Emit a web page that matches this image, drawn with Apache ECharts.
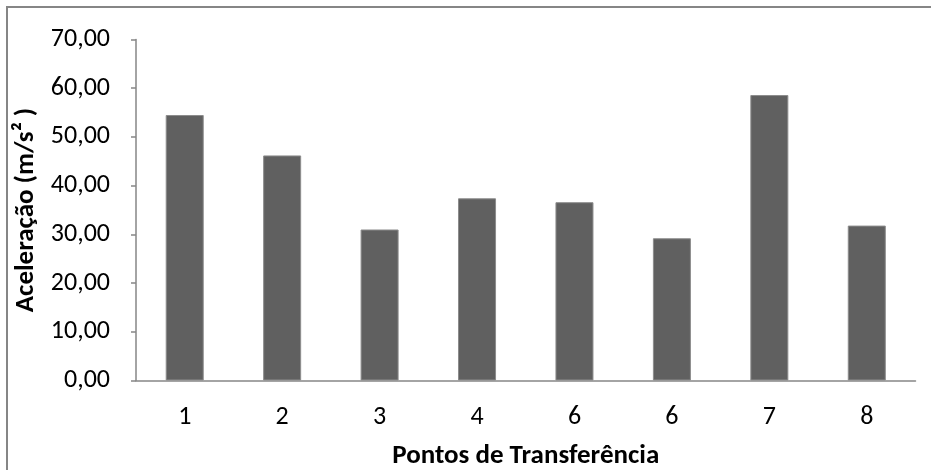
<!DOCTYPE html>
<html>
<head>
<meta charset="utf-8">
<script src="https://cdn.jsdelivr.net/npm/echarts@6/dist/echarts.min.js"></script>
<style>
  html, body { margin: 0; padding: 0; background: #fff; }
  #chart { width: 931px; height: 470px; }
</style>
</head>
<body>
<div id="chart"></div>
<script>
// Transfer points and measured acceleration (m/s²)
const categories = ['1', '2', '3', '4', '6', '6', '7', '8'];
const acceleration = [54.5, 46.2, 31.0, 37.4, 36.6, 29.2, 58.6, 31.8];
const yMin = 0, yMax = 70, yStep = 10;

const FONT = 'Carlito, "Open Sans", "Liberation Sans", sans-serif';
const chart = echarts.init(document.getElementById('chart'), null, { renderer: 'canvas' });

chart.setOption({
  animation: false,
  backgroundColor: '#ffffff',
  // frame edges along the top and left of the chart area
  graphic: [
    { type: 'line', shape: { x1: 6, y1: 7, x2: 931, y2: 7 },
      style: { stroke: '#868686', lineWidth: 2 }, silent: true },
    { type: 'line', shape: { x1: 7, y1: 6, x2: 7, y2: 470 },
      style: { stroke: '#868686', lineWidth: 2 }, silent: true }
  ],
  grid: {
    left: 136, right: 15.5, top: 39.5, bottom: 89.5,
    containLabel: false, outerBoundsMode: 'none'
  },
  xAxis: {
    type: 'category',
    data: categories,
    name: 'Pontos de Transferência',
    nameLocation: 'middle',
    nameGap: 62,
    nameTextStyle: { fontFamily: FONT, fontSize: 27, fontWeight: 'bold', color: '#000' },
    axisLine: { lineStyle: { color: '#868686', width: 1.5 } },
    axisTick: { show: false },
    axisLabel: { fontFamily: FONT, fontSize: 26, color: '#000', margin: 24 }
  },
  yAxis: {
    type: 'value',
    min: yMin, max: yMax, interval: yStep,
    name: 'Aceleração (m/s² )',
    nameLocation: 'middle',
    nameGap: 91,
    nameTextStyle: { fontFamily: FONT, fontSize: 27, fontWeight: 'bold', color: '#000' },
    axisLine: { show: true, lineStyle: { color: '#868686', width: 1.5 } },
    axisTick: { show: true, length: 5, lineStyle: { color: '#868686', width: 1.5 } },
    splitLine: { show: false },
    axisLabel: {
      fontFamily: FONT, fontSize: 26, color: '#000', margin: 26,
      formatter: v => v.toFixed(2).replace('.', ',')
    }
  },
  series: [{
    type: 'bar',
    data: acceleration,
    barWidth: '39%',
    itemStyle: { color: '#606060', borderColor: '#8c8c8c', borderWidth: 1 }
  }]
});
</script>
</body>
</html>
